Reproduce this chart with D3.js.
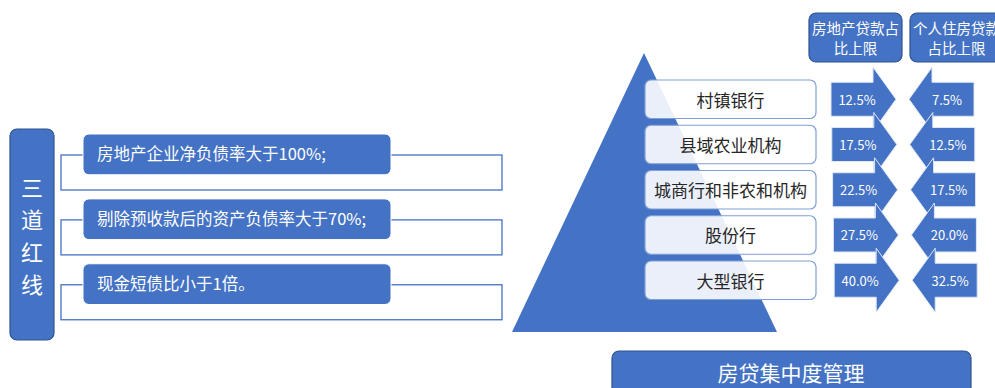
<!DOCTYPE html>
<html>
<head>
<meta charset="utf-8">
<script src="https://cdn.jsdelivr.net/npm/d3@7"></script>
<style>
  html, body { margin: 0; padding: 0; background: #ffffff; }
  svg { display: block; font-family: "Noto Sans CJK SC", "Noto Sans", sans-serif; }
</style>
</head>
<body>
<svg id="chart" width="995" height="388"></svg>
<script>
// 三道红线
const redLineTitle = "三道红线";
const redLines = [
  "房地产企业净负债率大于100%;",
  "剔除预收款后的资产负债率大于70%;",
  "现金短债比小于1倍。"
];

// 房贷集中度管理：银行分档及上限（%）
const bankTiers = ["村镇银行", "县域农业机构", "城商行和非农和机构", "股份行", "大型银行"];
const realEstateCap = [12.5, 17.5, 22.5, 27.5, 40.0];
const mortgageCap = [7.5, 12.5, 17.5, 20.0, 32.5];
const capHeaders = [
  ["房地产贷款占", "比上限"],
  ["个人住房贷款", "占比上限"]
];
const footerTitle = "房贷集中度管理";

const BLUE = "#4472C4";
const DARK = "#2F528F";
const svg = d3.select("#chart");
const pct = v => d3.format(".1f")(v) + "%";

// ---------- left: 三道红线 ----------
svg.append("rect")
  .attr("x", 10).attr("y", 129).attr("width", 44).attr("height", 211)
  .attr("rx", 7).attr("fill", BLUE).attr("stroke", DARK).attr("stroke-width", 1.2);

const titleY = d3.scalePoint().domain(d3.range(redLineTitle.length)).range([186, 283]);
svg.append("g").selectAll("text")
  .data(Array.from(redLineTitle))
  .join("text")
  .attr("x", 32).attr("y", (d, i) => titleY(i))
  .attr("text-anchor", "middle").attr("dominant-baseline", "central")
  .attr("font-size", 22).attr("fill", "#ffffff")
  .text(d => d);

const lineY = d3.scaleBand().domain(d3.range(redLines.length)).range([134, 304.5]).paddingInner(0.372);
const lineG = svg.append("g").selectAll("g").data(redLines).join("g")
  .attr("transform", (d, i) => `translate(0,${lineY(i)})`);
lineG.append("rect")
  .attr("x", 61).attr("y", 21).attr("width", 441).attr("height", 35)
  .attr("fill", "none").attr("stroke", BLUE).attr("stroke-width", 1.3);
lineG.append("rect")
  .attr("x", 83).attr("y", 0).attr("width", 308).attr("height", lineY.bandwidth())
  .attr("rx", 6).attr("fill", BLUE).attr("stroke", "#ffffff").attr("stroke-width", 1);
lineG.append("text")
  .attr("x", 97).attr("y", lineY.bandwidth() / 2 - 1)
  .attr("dominant-baseline", "central")
  .attr("font-size", 16.5).attr("fill", "#ffffff")
  .text(d => d);

// ---------- pyramid ----------
svg.append("path")
  .attr("d", d3.line()([[644, 53], [777, 332], [512, 332]]) + "Z")
  .attr("fill", BLUE);

const tierY = d3.scaleBand().domain(bankTiers).range([80, 299.5]).paddingInner(0.149);
const tierG = svg.append("g").selectAll("g").data(bankTiers).join("g")
  .attr("transform", d => `translate(0,${tierY(d)})`);
tierG.append("rect")
  .attr("x", 645).attr("y", 0).attr("width", 171).attr("height", tierY.bandwidth())
  .attr("rx", 6).attr("fill", "#ffffff").attr("fill-opacity", 0.89)
  .attr("stroke", "#7f9fd6").attr("stroke-width", 1.2);
tierG.append("text")
  .attr("x", 730.5).attr("y", tierY.bandwidth() / 2)
  .attr("text-anchor", "middle").attr("dominant-baseline", "central")
  .attr("font-size", 17).attr("fill", "#262626")
  .text(d => d);

// ---------- cap headers ----------
const headX = [809, 910];
const headG = svg.append("g").selectAll("g").data(capHeaders).join("g")
  .attr("transform", (d, i) => `translate(${headX[i]},13)`);
headG.append("rect")
  .attr("width", 93).attr("height", 49).attr("rx", 7)
  .attr("fill", BLUE).attr("stroke", DARK).attr("stroke-width", 1.2);
headG.selectAll("text").data(d => d).join("text")
  .attr("x", 46.5).attr("y", (d, i) => 14.5 + i * 20)
  .attr("text-anchor", "middle").attr("dominant-baseline", "central")
  .attr("font-size", 14.5).attr("fill", "#ffffff")
  .text(d => d);

// ---------- block arrows ----------
const bodyH = 17, headH = 32;
function rightArrow(x0, cy) {
  const xb = x0 + 42, xt = x0 + 65;
  return d3.line()([[x0, cy - bodyH], [xb, cy - bodyH], [xb, cy - headH], [xt, cy],
    [xb, cy + headH], [xb, cy + bodyH], [x0, cy + bodyH]]) + "Z";
}
function leftArrow(xt, cy) {
  const xb = xt + 23, x1 = xt + 65;
  return d3.line()([[x1, cy - bodyH], [xb, cy - bodyH], [xb, cy - headH], [xt, cy],
    [xb, cy + headH], [xb, cy + bodyH], [x1, cy + bodyH]]) + "Z";
}
const rows = bankTiers.map((t, i) => ({ tier: t, re: realEstateCap[i], mg: mortgageCap[i], i }));
const arrowG = svg.append("g").selectAll("g").data(rows).join("g");
arrowG.each(function (d) {
  const g = d3.select(this);
  const cy = tierY(d.tier) + tierY.bandwidth() / 2;
  const shift = d.i * 0.8;
  g.append("path").attr("d", rightArrow(831 + shift, cy))
    .attr("fill", BLUE).attr("stroke", "#dfe7f5").attr("stroke-width", 1);
  g.append("text")
    .attr("x", 857 + shift).attr("y", cy)
    .attr("text-anchor", "middle").attr("dominant-baseline", "central")
    .attr("font-size", 13).attr("fill", "#ffffff")
    .text(pct(d.re));
  g.append("path").attr("d", leftArrow(909 + shift, cy))
    .attr("fill", BLUE).attr("stroke", "#dfe7f5").attr("stroke-width", 1);
  g.append("text")
    .attr("x", 947 + shift).attr("y", cy)
    .attr("text-anchor", "middle").attr("dominant-baseline", "central")
    .attr("font-size", 13).attr("fill", "#ffffff")
    .text(pct(d.mg));
});

// ---------- footer ----------
svg.append("rect")
  .attr("x", 612).attr("y", 351).attr("width", 359).attr("height", 60).attr("rx", 7)
  .attr("fill", BLUE).attr("stroke", DARK).attr("stroke-width", 1.2);
svg.append("text")
  .attr("x", 791).attr("y", 372)
  .attr("text-anchor", "middle").attr("dominant-baseline", "central")
  .attr("font-size", 21).attr("fill", "#ffffff")
  .text(footerTitle);
</script>
</body>
</html>
